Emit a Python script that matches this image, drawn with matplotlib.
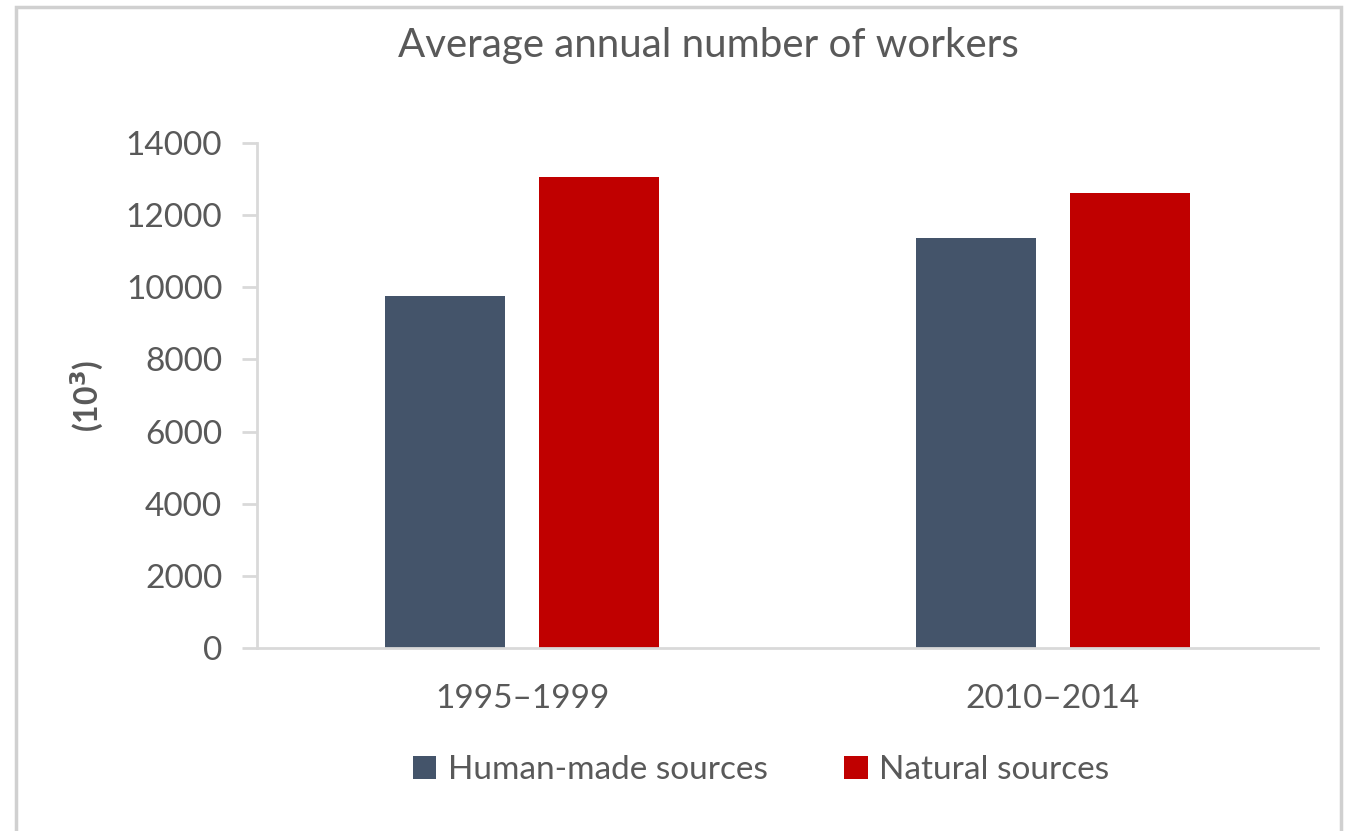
import matplotlib.pyplot as plt
from matplotlib.patches import Rectangle
import numpy as np

plt.rcParams['font.family'] = ['Lato', 'DejaVu Sans']

periods = ['1995–1999', '2010–2014']
human_made = [9750, 11380]
natural = [13050, 12620]
series_names = ['Human-made sources', 'Natural sources']
colors = ['#44546A', '#C00000']
yticks = [0, 2000, 4000, 6000, 8000, 10000, 12000, 14000]

text_col = '#595959'
line_col = '#D9D9D9'

fig = plt.figure(figsize=(13.52, 8.31), dpi=100)
# outer frame of the chart area
fig.patches.append(Rectangle((16 / 1352, -0.05), (1341 - 16) / 1352, 1.05 - 7 / 831,
                             transform=fig.transFigure, fill=False,
                             edgecolor='#D0D0D0', linewidth=2.5))

ax = fig.add_axes([257 / 1352, 1 - 648 / 831, (1318 - 257) / 1352, (648 - 143) / 831])

x = np.arange(len(periods))
w = 0.226
off = 0.145
ax.bar(x - off, human_made, w, color=colors[0], label=series_names[0])
ax.bar(x + off, natural, w, color=colors[1], label=series_names[1])

ax.set_xlim(-0.5, 1.5)
ax.set_ylim(0, 14000)
ax.set_yticks(yticks)
ax.set_xticks(x)
ax.set_xticklabels(periods)

for s in ['top', 'right']:
    ax.spines[s].set_visible(False)
for s in ['left', 'bottom']:
    ax.spines[s].set_color(line_col)
    ax.spines[s].set_linewidth(2)

ax.tick_params(axis='y', colors=line_col, labelcolor=text_col, labelsize=24,
               length=11, width=2, pad=14)
ax.tick_params(axis='x', length=0, labelcolor=text_col, labelsize=24, pad=26)

ax.set_ylabel('(10$^{\\mathbf{3}}$)', fontsize=23, color=text_col, fontweight='bold', labelpad=14)

fig.text(708 / 1352, 1 - 45 / 831, 'Average annual number of workers', ha='center', va='center',
         fontsize=29, color=text_col)

fig.legend(loc='center', bbox_to_anchor=(761 / 1352, 1 - 770 / 831), ncol=2, frameon=False,
           fontsize=24, labelcolor=text_col, handlelength=0.7, handleheight=0.7,
           handletextpad=0.35, columnspacing=2.3)

fig.savefig('out.png', dpi=100)
